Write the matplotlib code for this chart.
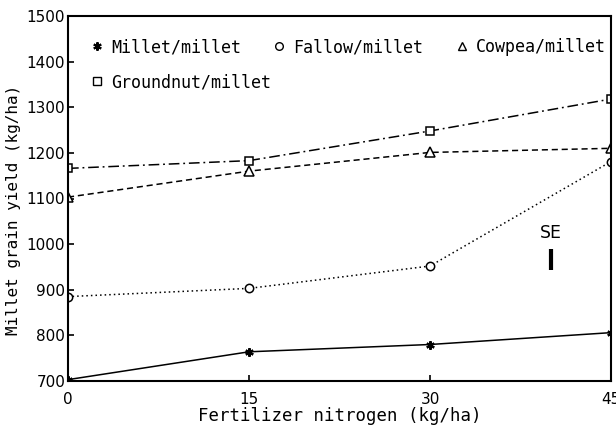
import matplotlib
matplotlib.use("Agg")
import matplotlib.pyplot as plt

nitrogen = [0, 15, 30, 45]
millet_millet = [703, 764, 780, 806]
fallow_millet = [885, 903, 952, 1181]
cowpea_millet = [1103, 1160, 1201, 1210]
groundnut_millet = [1166, 1183, 1248, 1318]
se_x = 40.0
se_center = 966
se_value = 46

xticks = [0, 15, 30, 45]
yticks = [700, 800, 900, 1000, 1100, 1200, 1300, 1400, 1500]

fig = plt.figure(figsize=(6.16, 4.25), dpi=100)
ax = fig.add_axes([68/616, 44/425, 543/616, 365/425])

ax.plot(nitrogen, millet_millet, color='black', lw=1.1, ls='-',
        marker=(6, 2, 0), ms=6, mew=1.6, mec='black')
ax.plot(nitrogen, fallow_millet, color='black', lw=1.1, ls=(0, (1, 2)),
        marker='o', ms=6, mfc='white', mec='black', mew=1.1)
ax.plot(nitrogen, cowpea_millet, color='black', lw=1.1, ls=(0, (4, 2.5)),
        marker='^', ms=6.5, mfc='white', mec='black', mew=1.1)
ax.plot(nitrogen, groundnut_millet, color='black', lw=1.1, ls=(0, (7, 2.5, 1.2, 2.5)),
        marker='s', ms=6, mfc='white', mec='black', mew=1.1)

# SE bar
ax.errorbar([se_x], [se_center], yerr=[se_value / 2], fmt='none', ecolor='black',
            elinewidth=3.0, capsize=0)
ax.text(se_x, 1025, 'SE', ha='center', va='center', fontsize=12.5,
        family=['DejaVu Sans'])

# legend proxies
h_m, = ax.plot([], [], ls='none', marker=(6, 2, 0), ms=6, mew=1.5, color='black', label='Millet/millet')
h_f, = ax.plot([], [], ls='none', marker='o', ms=5.5, mfc='white', mec='black', label='Fallow/millet')
h_c, = ax.plot([], [], ls='none', marker='^', ms=5.5, mfc='white', mec='black', label='Cowpea/millet')
h_g, = ax.plot([], [], ls='none', marker='s', ms=5.5, mfc='white', mec='black', label='Groundnut/millet')
leg_kw = dict(loc='center left', frameon=False, handlelength=0.6, handletextpad=0.54,
              columnspacing=2.0, borderpad=0, borderaxespad=0,
              prop={'family': ['DejaVu Sans Mono'], 'size': 12})
leg1 = ax.legend(handles=[h_m, h_f, h_c], ncol=3, bbox_to_anchor=(0.0442, 0.915), **leg_kw)
ax.add_artist(leg1)
ax.legend(handles=[h_g], ncol=1, bbox_to_anchor=(0.0442, 0.819), **leg_kw)

ax.set_xlim(0, 45)
ax.set_ylim(700, 1500)
ax.set_xticks(xticks)
ax.set_yticks(yticks)
ax.tick_params(axis='both', direction='in', length=4, width=1.2)
ax.tick_params(axis='x', pad=8)
ax.tick_params(axis='y', pad=2)
for lbl in ax.get_xticklabels() + ax.get_yticklabels():
    lbl.set_family(['Liberation Sans Narrow', 'DejaVu Sans'])
    lbl.set_fontsize(11)
for s in ax.spines.values():
    s.set_linewidth(1.5)

ax.set_xlabel('Fertilizer nitrogen (kg/ha)', family=['DejaVu Sans Mono'], fontsize=12.5, labelpad=0)
ax.set_ylabel('Millet grain yield (kg/ha)', family=['DejaVu Sans Mono'], fontsize=11.5)
ax.yaxis.set_label_coords(-0.0866, 0.468)

fig.savefig('out.png', dpi=100)
